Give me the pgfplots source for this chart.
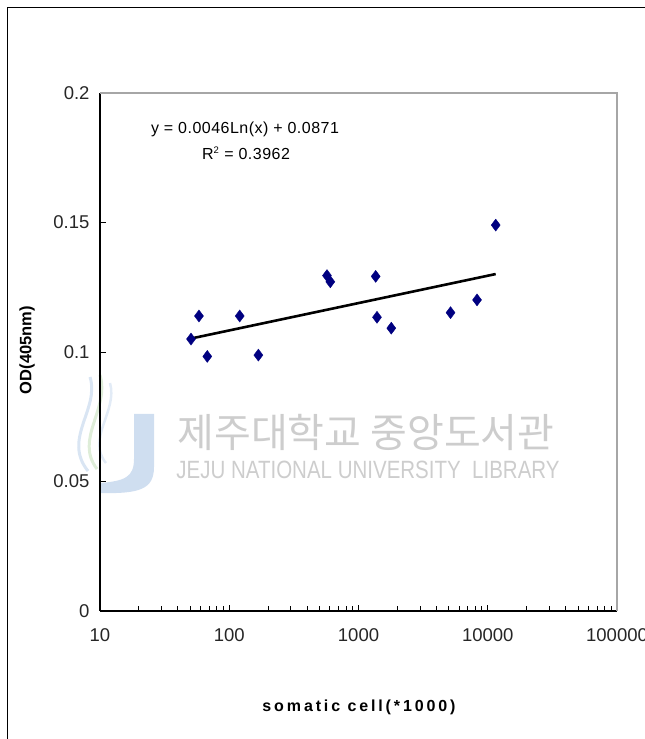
\documentclass[border=0pt]{standalone}
\usepackage{fontspec}
\setmainfont{Liberation Sans}
\newfontfamily\cjk{Noto Sans CJK KR}
\usepackage{pgfplots}
\pgfplotsset{compat=1.18}
\definecolor{navyd}{RGB}{0,0,128}
\definecolor{wmgray}{RGB}{205,205,205}
\definecolor{wmblue}{RGB}{175,200,230}
\definecolor{wmgreen}{RGB}{200,225,190}
\begin{document}
\begin{tikzpicture}[x=1pt,y=1pt]
\useasboundingbox (0,0) rectangle (645,739);
% outer frame (right and bottom edges are outside the picture)
\draw[line width=1.8pt] (7.5,-20) -- (7.5,731.5) -- (700,731.5);
% watermark logo (faint)
\begin{scope}[opacity=0.6]
\draw[wmblue!80!white, line width=3pt] (88,268) .. controls (62,300) and (100,330) .. (90,362);
\draw[wmgreen, line width=3pt] (97,270) .. controls (74,300) and (110,330) .. (100,364);
\draw[wmblue!60!white, line width=2.5pt] (106,276) .. controls (86,300) and (118,328) .. (110,356);
\fill[wmblue] (134,325) -- (154,325) -- (154,272) .. controls (154,250) and (140,245) .. (100,246) -- (100,256) .. controls (125,258) and (134,262) .. (134,280) -- cycle;
\end{scope}
\node[text=wmgray, font=\cjk\fontsize{40}{44}\selectfont, anchor=center] at (366,307) {제주대학교 중앙도서관};
\node[text=wmgray, anchor=center] at (368,269) {\scalebox{0.82}[1]{\fontsize{25}{28}\selectfont JEJU NATIONAL UNIVERSITY\ \ LIBRARY}};
\begin{axis}[
  at={(100pt,128pt)}, anchor=south west,
  scale only axis, width=517pt, height=518pt,
  xmode=log, xmin=10, xmax=100000, ymin=0, ymax=0.2,
  axis x line*=bottom, axis y line*=left,
  axis line style={line width=1.2pt, -},
  xtick={10,100,1000,10000,100000},
  xticklabels={10,100,1000,10000,100000},
  ytick={0,0.05,0.1,0.15,0.2},
  yticklabels={0,0.05,0.1,0.15,0.2},
  minor ytick={},
  tick align=inside,
  major tick length=6pt, minor tick length=5pt,
  every tick/.style={black, line width=0.9pt},
  tick label style={font=\fontsize{18.5}{20}\selectfont, text=black!85},
  /pgf/number format/assume math mode=true,
  xticklabel style={yshift=-14pt},
  yticklabel style={xshift=-7pt},
  clip=false,
]
\draw[gray!70, line width=1.8pt] (rel axis cs:0,1) -- (rel axis cs:1,1) -- (rel axis cs:1,0);
\addplot[only marks, mark=diamond*, mark size=6pt, navyd, mark options={fill=navyd, draw=navyd}] coordinates {
(50.6,0.1050) (58.3,0.1139) (67.6,0.0983) (120.5,0.1139) (168,0.0988)
(570,0.1295) (605,0.1271) (1358,0.1292) (1390,0.1134) (1794,0.1092)
(5152,0.1152) (8260,0.1201) (11520,0.1490)
};
\addplot[black, line width=2.6pt] coordinates {(50.6,0.1052) (11520,0.1301)};
\end{axis}
\node[anchor=center, font=\fontsize{16}{18}\selectfont\addfontfeature{LetterSpace=3}] at (245,610) {y = 0.0046Ln(x) + 0.0871};
\node[anchor=center, font=\fontsize{16}{18}\selectfont\addfontfeature{LetterSpace=3}] at (246,586) {R$^{\mbox{\fontsize{9.5}{10}\selectfont 2}}$ = 0.3962};
\node[anchor=center, font=\bfseries\fontsize{16}{18}\selectfont\addfontfeature{LetterSpace=18}] at (359,32) {somatic cell(*1000)};
\node[anchor=center, rotate=90, font=\bfseries\fontsize{16.5}{18}\selectfont] at (27,389) {OD(405nm)};
\end{tikzpicture}
\end{document}
